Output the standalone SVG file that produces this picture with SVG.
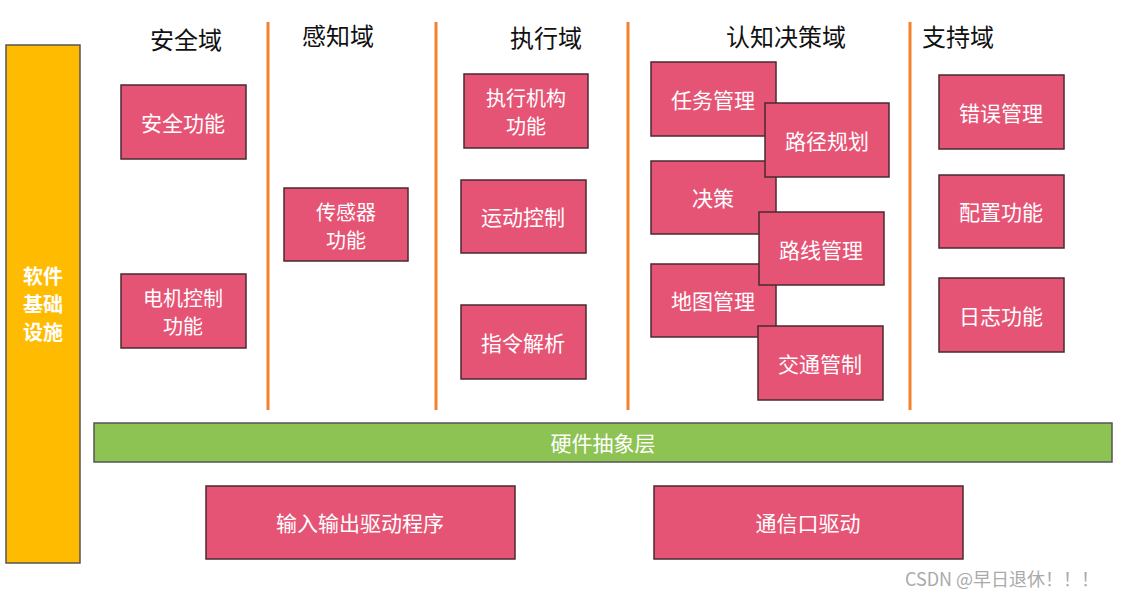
<svg xmlns="http://www.w3.org/2000/svg" width="1126" height="599" viewBox="0 0 1126 599">
<style>
.b{fill:#E65475;stroke:#4a2a30;stroke-width:1.5}
.t{font-family:"Noto Sans CJK SC",sans-serif;font-size:21px;fill:#fff;text-anchor:middle;dominant-baseline:central}
.s{font-size:20px}
.h{font-family:"Noto Sans CJK SC",sans-serif;font-size:24px;fill:#111;text-anchor:middle;dominant-baseline:central}
.d{stroke:#F5822A;stroke-width:3}
</style>
<rect width="1126" height="599" fill="#fff"/>
<g id="dividers"><line class="d" x1="268" y1="22" x2="268" y2="410"/><line class="d" x1="436" y1="22" x2="436" y2="410"/><line class="d" x1="628" y1="22" x2="628" y2="410"/><line class="d" x1="910" y1="22" x2="910" y2="410"/></g>
<g id="titles"><text class="h" x="186" y="38">安全域</text><text class="h" x="338" y="34">感知域</text><text class="h" x="546" y="36">执行域</text><text class="h" x="786" y="35">认知决策域</text><text class="h" x="958" y="35">支持域</text></g>
<g id="infra"><rect x="6" y="45" width="74" height="518" fill="#FFBB00" stroke="#555" stroke-width="1.5"/><text class="t s" x="43" y="275" style="font-weight:bold">软件</text><text class="t s" x="43" y="303" style="font-weight:bold">基础</text><text class="t s" x="43" y="331" style="font-weight:bold">设施</text></g>
<g id="n1"><rect class="b" x="121" y="85" width="125" height="74"/><text class="t" x="183" y="122">安全功能</text></g>
<g id="n2"><rect class="b" x="121" y="274" width="125" height="74"/><text class="t s" x="183" y="297">电机控制</text><text class="t s" x="183" y="325">功能</text></g>
<g id="n3"><rect class="b" x="284" y="188" width="124" height="73"/><text class="t s" x="346" y="211">传感器</text><text class="t s" x="346" y="239">功能</text></g>
<g id="n4"><rect class="b" x="464" y="74" width="124" height="74"/><text class="t s" x="526" y="97">执行机构</text><text class="t s" x="526" y="125">功能</text></g>
<g id="n5"><rect class="b" x="461" y="180" width="125" height="73"/><text class="t" x="523" y="216">运动控制</text></g>
<g id="n6"><rect class="b" x="461" y="305" width="125" height="74"/><text class="t" x="523" y="342">指令解析</text></g>
<g id="n7"><rect class="b" x="651" y="62" width="125" height="74"/><text class="t" x="713" y="99">任务管理</text></g>
<g id="n9"><rect class="b" x="651" y="161" width="125" height="73"/><text class="t" x="713" y="197">决策</text></g>
<g id="n11"><rect class="b" x="651" y="264" width="125" height="73"/><text class="t" x="713" y="300">地图管理</text></g>
<g id="n8"><rect class="b" x="765" y="103" width="124" height="74"/><text class="t" x="827" y="140">路径规划</text></g>
<g id="n10"><rect class="b" x="759" y="212" width="125" height="73"/><text class="t" x="821" y="249">路线管理</text></g>
<g id="n12"><rect class="b" x="758" y="326" width="125" height="74"/><text class="t" x="820" y="363">交通管制</text></g>
<g id="n13"><rect class="b" x="939" y="75" width="125" height="74"/><text class="t" x="1001" y="112">错误管理</text></g>
<g id="n14"><rect class="b" x="939" y="175" width="125" height="73"/><text class="t" x="1001" y="211">配置功能</text></g>
<g id="n15"><rect class="b" x="939" y="278" width="125" height="74"/><text class="t" x="1001" y="315">日志功能</text></g>
<g id="hal"><rect x="94" y="423" width="1018" height="39" fill="#8DC352" stroke="#555" stroke-width="1.5"/><text class="t" x="603" y="442">硬件抽象层</text></g>
<g id="n16"><rect class="b" x="206" y="486" width="309" height="73"/><text class="t" x="360" y="522">输入输出驱动程序</text></g>
<g id="n17"><rect class="b" x="654" y="486" width="309" height="73"/><text class="t" x="808" y="522">通信口驱动</text></g>
<g id="connectors"/>
<text x="1002" y="578" font-family="Noto Sans CJK SC,sans-serif" font-size="18" fill="#aaa" text-anchor="middle" dominant-baseline="central">CSDN @早日退休！！！</text>
</svg>
